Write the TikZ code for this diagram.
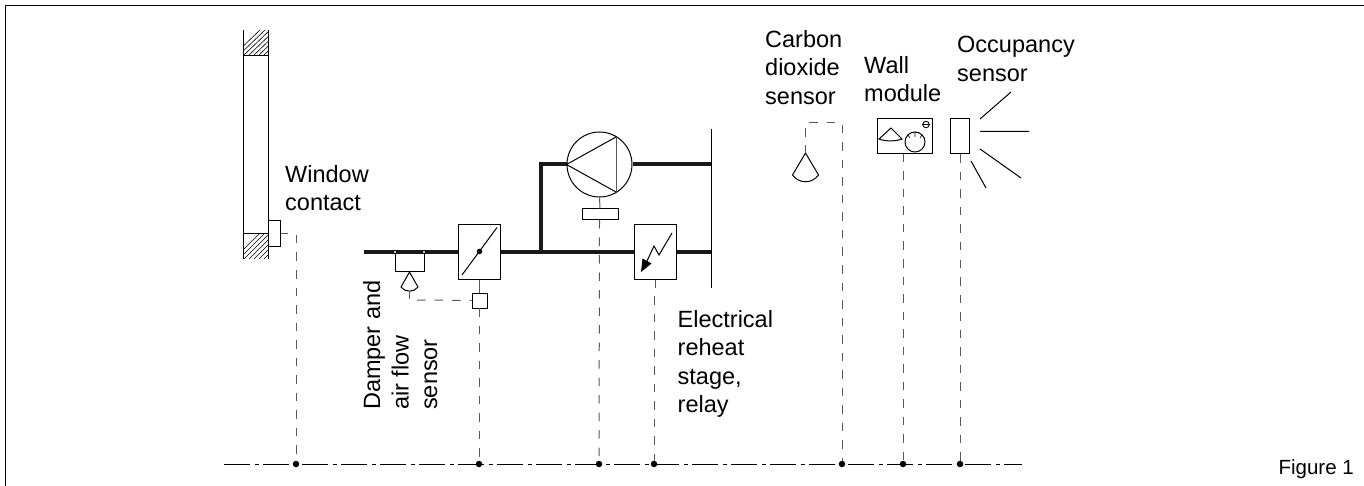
\documentclass[tikz,border=0pt]{standalone}
\usepackage{fontspec}
\setmainfont{Liberation Sans}
\tikzset{x=1pt,y=-1pt,
 thin line/.style={draw=black,line width=1pt},
 stub/.style={draw=black!65,line width=1pt},
 thick pipe/.style={draw=black!90,line width=4pt},
 sig/.style={draw=black!65,line width=1pt,dash pattern=on 8.5pt off 9pt},
 lab/.style={font=\fontsize{23.5}{28.5}\selectfont,align=left,inner sep=0pt,anchor=north west},
 box/.style={draw=black,line width=1pt,fill=white,inner sep=0pt},
 busdot/.style={circle,fill=black,inner sep=0pt,minimum size=6.5pt},
 hole/.style={circle,draw=black,fill=white,line width=0.6pt,inner sep=0pt,minimum size=3.4pt}}
\begin{document}
\begin{tikzpicture}
\useasboundingbox (0,0) rectangle (1364,486);
% frame
\coordinate (fbl) at (5.5,486);\coordinate (ftl) at (5.5,5.5);\coordinate (ftr) at (1364,5.5);
\draw[draw=black,line width=1.3pt] (fbl)--(ftl)--(ftr);
% window
\foreach \yy/\ye in {30/55,233/259}{
 \begin{scope}
 \clip (244,\yy) rectangle (268,\ye);
 \foreach \k in {0,5,...,60}{\draw[line width=0.6pt] (234+\k,\ye)--(234+\k+26,\yy);}
 \end{scope}}
\coordinate (w1) at (243.5,30);\coordinate (w2) at (243.5,259);\coordinate (w3) at (268.5,30);\coordinate (w4) at (268.5,259);
\draw[thin line] (w1)--(w2) (w3)--(w4) (243.5,55.5)--(268.5,55.5) (243.5,233.5)--(268.5,233.5);
\node[box,minimum width=11.5pt,minimum height=26pt] (wc) at (274.25,234) {};
\coordinate (wct) at (288,233.5);
\draw[stub] (wc.east|-wct)--(wct);
% bus
\coordinate (busL) at (224,464);\coordinate (busR) at (1022,464);
\draw[line width=1pt,dash pattern=on 26pt off 5pt on 4pt off 4pt] (busL)--(busR);
\foreach \n/\xx in {d1/296,d2/479,d3/599,d4/654,d5/842,d6/903,d7/960}{\node[busdot] (\n) at (\xx,464) {};}
% pipes
\node[box,minimum width=42pt,minimum height=54pt] (damper) at (479,252) {};
\node[box,minimum width=42pt,minimum height=54pt] (reheat) at (655,252) {};
\node[circle,draw=black,line width=1pt,fill=white,minimum size=65pt,inner sep=0pt] (fan) at (599.5,164.5) {};
\coordinate (duct1) at (364,252);
\coordinate (wallT) at (711.5,164.5);\coordinate (wallB) at (711.5,252);
\coordinate (corner) at (541,164.5);\coordinate (jct) at (541,252);
\draw[thick pipe] (duct1)--(damper.west);
\draw[thick pipe] (damper.east)--(reheat.west);
\draw[thick pipe] (reheat.east)--(wallB);
\draw[thick pipe] (jct)--(corner)--(fan.west);
\draw[thick pipe] (fan.east)--(wallT);
\draw[thin line] (711.5,129)--(711.5,288);
% fan triangle
\draw[thin line] (fan.west)--(616,137);
\draw[thin line] (fan.west)--(616,192);
\draw[stub] (616,137)--(616,192);
\node[box,minimum width=36pt,minimum height=11pt] (fanm) at (600,214.5) {};
\draw[stub] (fan.south)--(fanm.north);
\draw[sig] (599.5,220)--(d3);
% damper inside
\draw[thin line] (462,275)--(497,227.5);
\node[circle,fill=black,inner sep=0pt,minimum size=5.5pt] (dpiv) at (479.5,251.5) {};
\node[box,minimum width=15pt,minimum height=15pt] (act) at (479.5,300.5) {};
\draw[stub] (damper.south)--(damper.south|-act.north);
\draw[sig] (479,308)--(d2);
% flow sensor
\node[hole] (h1) at (395,252) {};
\node[hole] (h2) at (424,252) {};
\draw[thin line] (h1)--(395,271.5)--(424,271.5)--(h2);
\coordinate (fsa) at (409.5,272);
\draw[thin line] (fsa)--(401,287) .. controls (405,292.5) and (414,292.5) .. (418,287)--cycle;
\draw[stub] (409.5,291)--(409.5,299);
\coordinate (fsd) at (417,300);
\draw[sig] (fsd)--(act.west);
% reheat inside
\draw[thin line] (672,233)--(659,255)--(654,246)--(646,263);
\fill[black] (641,272)--(642.5,258.5)--(651.5,263.5)--cycle;
\draw[stub] (reheat.south)--(655,288);
\coordinate (rhd) at (654,296);
\draw[sig] (rhd)--(d4);
\coordinate (wd) at (296,235);
\draw[sig] (wd)--(d1);
% CO2
\coordinate (c3) at (805.5,123);\coordinate (c2) at (842,123);
\draw[thin line] (805.5,153)--(792.5,175) .. controls (799,184) and (812,184) .. (818.5,175)--cycle;
\draw[stub] (805.5,153)--(805.5,145);
\draw[sig] (805.5,137)--(c3)--(c2)--(d5);
% wall module
\node[box,minimum width=55pt,minimum height=35pt] (wm) at (904.5,136.5) {};
\draw[thin line] (891,128)--(879,139) .. controls (885,141.5) and (896,141.5) .. (902,139)--cycle;
\node[circle,draw=black,line width=1pt,minimum size=20pt,inner sep=0pt] (dial) at (915,142) {};
\node[circle,draw=black,line width=0.9pt,minimum size=6.5pt,inner sep=0pt] (led) at (926,124.5) {};
\draw[line width=0.6pt] (led.west)--(led.east);
\draw[line width=0.6pt] (915,132)--(915,137) (908,135)--(910,138) (922,135)--(920,138);
\draw[sig] (903,154)--(d6);
% occ
\node[box,minimum width=19.5pt,minimum height=35pt] (occ) at (960,136.5) {};
\draw[sig] (occ.south)--(d7);
\coordinate (r1a) at (980,119);\coordinate (r1b) at (1011,92);
\coordinate (r2a) at (980,131.5);\coordinate (r2b) at (1029,131.5);
\coordinate (r3a) at (980,149);\coordinate (r3b) at (1021,178);
\coordinate (r4a) at (971,161);\coordinate (r4b) at (986,188);
\draw[thin line] (r1a)--(r1b) (r2a)--(r2b) (r3a)--(r3b) (r4a)--(r4b);
% texts
\node[lab] (t1) at (285,165) {Window\\contact};
\node[lab,rotate=90] (t2) at (363,410) {Damper and\\air flow\\sensor};
\node[lab] (t3) at (677.5,310) {Electrical\\reheat\\stage,\\relay};
\node[lab] (t4) at (765,30) {Carbon\\dioxide\\sensor};
\node[lab] (t5) at (864,56) {Wall\\module};
\node[lab] (t6) at (957,36) {Occupancy\\sensor};
\node[inner sep=0pt,anchor=base east,font=\fontsize{20.5}{24}\selectfont] (t7) at (1354,474) {Figure 1};
\end{tikzpicture}
\end{document}
